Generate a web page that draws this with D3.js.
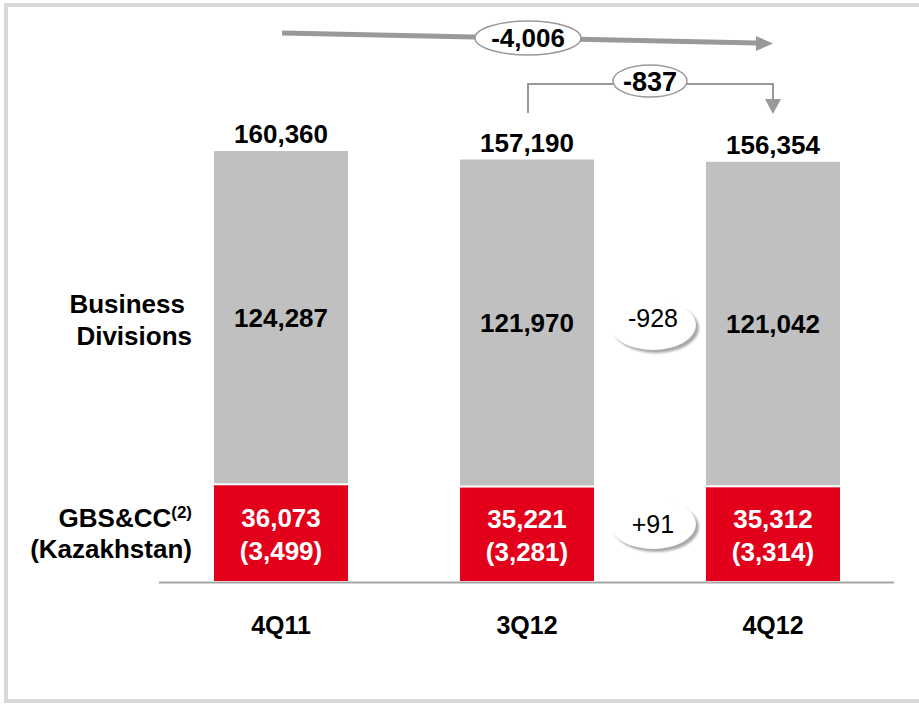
<!DOCTYPE html>
<html>
<head>
<meta charset="utf-8">
<script src="https://cdn.jsdelivr.net/npm/d3@7"></script>
<style>
  body { margin: 0; background: #fff; }
  #chart { width: 919px; height: 704px; }
  text { font-family: "Liberation Sans", Arial, sans-serif; }
</style>
</head>
<body>
<div id="chart"></div>
<script>
// data
const quarters = ["4Q11", "3Q12", "4Q12"];
const totals = [160360, 157190, 156354];
const divisions = [124287, 121970, 121042];
const gbs = [36073, 35221, 35312];
const kazakhstan = [3499, 3281, 3314];
const totalChangeYear = -4006;
const totalChangeQuarter = -837;
const divisionsChange = -928;
const gbsChange = 91;

const width = 919;
const height = 704;
const baseY = 581;

const svg = d3.select("#chart")
    .append("svg")
    .attr("width", width)
    .attr("height", height);

const defs = svg.append("defs");
defs.append("filter").attr("id", "soft")
    .append("feGaussianBlur").attr("stdDeviation", 1.2);

// frame
svg.append("rect")
    .attr("x", 6).attr("y", 5)
    .attr("width", 1000).attr("height", 696)
    .attr("fill", "none")
    .attr("stroke", "#d9d9d9")
    .attr("stroke-width", 4);

const x = d3.scaleBand()
    .domain(quarters)
    .range([214, 840])
    .paddingInner(0.455);

const y = d3.scaleLinear()
    .domain([0, 160360])
    .range([baseY, 151]);

// plain hyphen for negatives, like the slide
const locale = d3.formatLocale({
    decimal: ".", thousands: ",", grouping: [3], currency: ["", ""], minus: "-"
});
const fmt = locale.format(",");
const cx = q => x(q) + x.bandwidth() / 2;

const rows = quarters.map((q, i) => ({
    q: q, total: totals[i], div: divisions[i], gbs: gbs[i], kz: kazakhstan[i]
}));

// gray part (business divisions)
svg.append("g")
    .selectAll("rect")
    .data(rows)
    .join("rect")
    .attr("x", d => x(d.q))
    .attr("width", x.bandwidth())
    .attr("y", d => y(d.total))
    .attr("height", d => y(d.gbs) - 1 - y(d.total))
    .attr("fill", "#c0c0c0");

// red part (GBS&CC)
svg.append("g")
    .selectAll("rect")
    .data(rows)
    .join("rect")
    .attr("x", d => x(d.q))
    .attr("width", x.bandwidth())
    .attr("y", d => y(d.gbs) + 1)
    .attr("height", d => y(0) - y(d.gbs) - 1)
    .attr("fill", "#e2001a");

// baseline
svg.append("line")
    .attr("x1", 159).attr("x2", 894)
    .attr("y1", baseY + 1.5).attr("y2", baseY + 1.5)
    .attr("stroke", "#a6a6a6")
    .attr("stroke-width", 2);

const labels = svg.append("g")
    .attr("font-weight", "bold")
    .attr("text-anchor", "middle");

// totals above bars
labels.selectAll(".tot")
    .data(rows)
    .join("text")
    .attr("class", "tot")
    .attr("x", d => cx(d.q))
    .attr("y", d => y(d.total) - 8)
    .attr("font-size", 26)
    .text(d => fmt(d.total));

// division values
labels.selectAll(".div")
    .data(rows)
    .join("text")
    .attr("class", "div")
    .attr("x", d => cx(d.q))
    .attr("y", d => (y(d.total) + y(d.gbs)) / 2 + 9)
    .attr("font-size", 26)
    .text(d => fmt(d.div));

// red values, two lines
labels.selectAll(".gbs")
    .data(rows)
    .join("text")
    .attr("class", "gbs")
    .attr("x", d => cx(d.q))
    .attr("y", d => (y(d.gbs) + baseY) / 2 - 6)
    .attr("font-size", 26)
    .attr("fill", "#fff")
    .text(d => fmt(d.gbs));

labels.selectAll(".kz")
    .data(rows)
    .join("text")
    .attr("class", "kz")
    .attr("x", d => cx(d.q))
    .attr("y", d => (y(d.gbs) + baseY) / 2 + 27)
    .attr("font-size", 26)
    .attr("fill", "#fff")
    .text(d => "(" + fmt(d.kz) + ")");

// category labels
labels.selectAll(".cat")
    .data(quarters)
    .join("text")
    .attr("class", "cat")
    .attr("x", d => cx(d))
    .attr("y", 634)
    .attr("font-size", 25)
    .text(d => d);

// row labels on the left
const side = svg.append("g")
    .attr("font-weight", "bold")
    .attr("font-size", 26)
    .attr("text-anchor", "end");

side.append("text").attr("x", 185).attr("y", 313).text("Business");
side.append("text").attr("x", 192).attr("y", 345).text("Divisions");
const g1 = side.append("text").attr("x", 192).attr("y", 527);
g1.append("tspan").text("GBS&CC");
g1.append("tspan").attr("font-size", 17).attr("dy", -9).text("(2)");
side.append("text").attr("x", 192).attr("y", 558).text("(Kazakhstan)");

// year-on-year arrow
const ann = svg.append("g");
const xa = cx("4Q11"), xb = cx("3Q12"), xc = cx("4Q12");

ann.append("line")
    .attr("x1", xa + 1).attr("y1", 33)
    .attr("x2", xc - 16).attr("y2", 43)
    .attr("stroke", "#999")
    .attr("stroke-width", 5);
ann.append("path")
    .attr("d", `M${xc - 17},${36} L${xc},${43.5} L${xc - 17},${51} Z`)
    .attr("fill", "#999");

ann.append("ellipse")
    .attr("cx", xb + 1).attr("cy", 38)
    .attr("rx", 53).attr("ry", 17)
    .attr("fill", "#fff")
    .attr("stroke", "#999")
    .attr("stroke-width", 1.5);
ann.append("text")
    .attr("x", xb + 1).attr("y", 47)
    .attr("text-anchor", "middle")
    .attr("font-weight", "bold")
    .attr("font-size", 26)
    .text(fmt(totalChangeYear));

// quarter-on-quarter bracket
ann.append("path")
    .attr("d", `M${xb + 1},113 V84 H${xc} V100`)
    .attr("fill", "none")
    .attr("stroke", "#999")
    .attr("stroke-width", 2);
ann.append("path")
    .attr("d", `M${xc - 8},99 L${xc},114 L${xc + 8},99 Z`)
    .attr("fill", "#999");

const mid = (xb + xc) / 2;
ann.append("ellipse")
    .attr("cx", mid).attr("cy", 81)
    .attr("rx", 37).attr("ry", 16)
    .attr("fill", "#fff")
    .attr("stroke", "#999")
    .attr("stroke-width", 1.5);
ann.append("text")
    .attr("x", mid).attr("y", 91)
    .attr("text-anchor", "middle")
    .attr("font-weight", "bold")
    .attr("font-size", 27)
    .text(fmt(totalChangeQuarter));

// shadowed bubbles between 3Q12 and 4Q12
const bubbles = [
    { v: divisionsChange, cy: 325, ty: 327 },
    { v: gbsChange, cy: 524, ty: 533 }
];
const b = ann.selectAll(".bubble")
    .data(bubbles)
    .join("g")
    .attr("class", "bubble");
b.append("ellipse")
    .attr("cx", mid + 6).attr("cy", d => d.cy + 3)
    .attr("rx", 43).attr("ry", 25)
    .attr("fill", "#a8a8a8")
    .attr("filter", "url(#soft)");
b.append("ellipse")
    .attr("cx", mid + 3).attr("cy", d => d.cy)
    .attr("rx", 43).attr("ry", 25)
    .attr("fill", "#fff");
b.append("text")
    .attr("x", mid + 3).attr("y", d => d.ty)
    .attr("text-anchor", "middle")
    .attr("font-size", 25)
    .text(d => (d.v > 0 ? "+" : "") + fmt(d.v));
</script>
</body>
</html>
